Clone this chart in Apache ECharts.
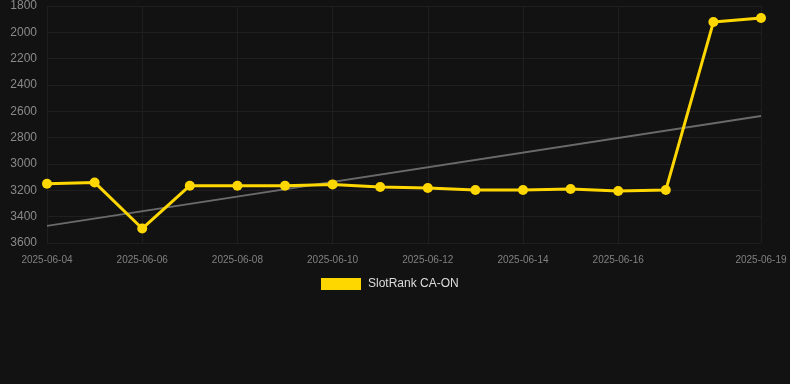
<!DOCTYPE html>
<html><head><meta charset="utf-8">
<script src="https://cdn.jsdelivr.net/npm/echarts@6/dist/echarts.min.js"></script>
<style>html,body{margin:0;padding:0;background:#121212;}#c{width:790px;height:384px;}</style>
</head><body><div id="c"></div>
<script>
const dates = ['2025-06-04','2025-06-05','2025-06-06','2025-06-07','2025-06-08','2025-06-09','2025-06-10','2025-06-11','2025-06-12','2025-06-13','2025-06-14','2025-06-15','2025-06-16','2025-06-17','2025-06-18','2025-06-19'];
const ranks = [3150,3140,3490,3165,3165,3165,3155,3175,3182,3198,3198,3190,3205,3198,1922,1891];
const trendStart = 3470;
const trendEnd = 2635;
const yTicks = [1800,2000,2200,2400,2600,2800,3000,3200,3400,3600];
const seriesName = 'SlotRank CA-ON';

const trend = dates.map((d,i)=> i===0 ? trendStart : (i===dates.length-1 ? trendEnd : null));
const chart = echarts.init(document.getElementById('c'));
const lastIdx = dates.length-1;
chart.setOption({
  backgroundColor:'#121212',
  animation:false,
  grid:{left:47,right:29,top:6,bottom:141,containLabel:false},
  legend:{data:[{name:seriesName,icon:'rect'}],top:273,left:316,itemWidth:40,itemHeight:12,itemGap:10,
    textStyle:{color:'#dddddd',fontSize:12,fontFamily:'Liberation Sans, Arial',padding:[0,0,0,2]}},
  xAxis:{type:'category',data:dates,boundaryGap:false,
    axisLine:{show:false},axisTick:{show:false},
    axisLabel:{color:'#808080',fontSize:10,fontFamily:'Liberation Sans, Arial',margin:12,
      interval:(i)=> i%2===0 && i<lastIdx-1 || i===lastIdx},
    splitLine:{show:true,lineStyle:{color:'#1f1f1f',width:1}}},
  yAxis:{type:'value',inverse:true,min:yTicks[0],max:yTicks[yTicks.length-1],interval:200,
    axisLine:{show:false},axisTick:{show:false},
    axisLabel:{color:'#8a8a8a',fontSize:12,fontFamily:'Liberation Sans, Arial',margin:10,formatter:(v)=>String(v)},
    splitLine:{lineStyle:{color:'#1f1f1f',width:1}}},
  series:[
    {name:'trend',type:'line',data:trend,connectNulls:true,symbol:'none',
     lineStyle:{color:'#6a6a6a',width:2},silent:true,z:1},
    {name:seriesName,type:'line',data:ranks,symbol:'circle',symbolSize:10,
     itemStyle:{color:'#FFD700'},lineStyle:{color:'#FFD700',width:3},z:2}
  ]
});
</script></body></html>
